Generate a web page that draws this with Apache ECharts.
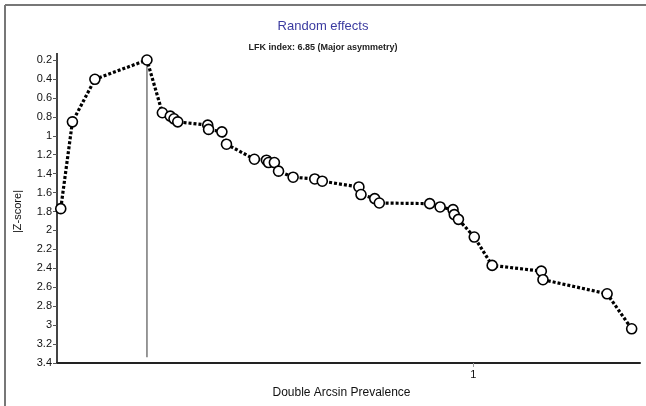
<!DOCTYPE html>
<html>
<head>
<meta charset="utf-8">
<script src="https://cdn.jsdelivr.net/npm/echarts@6/dist/echarts.min.js"></script>
<style>
html,body{margin:0;padding:0;background:#fff;}
#main{width:646px;height:406px;}
</style>
</head>
<body>
<div id="main"></div>
<script>
// Double arcsine prevalence (x) and |Z-score| (y) for each study, ordered by x
const prevalence = [0.009, 0.037, 0.091, 0.216, 0.253, 0.272, 0.281, 0.290,
  0.362, 0.364, 0.396, 0.407, 0.474, 0.503, 0.508, 0.522, 0.532,
  0.567, 0.619, 0.637, 0.725, 0.730, 0.763, 0.774,
  0.895, 0.920, 0.951, 0.954, 0.964, 1.002,
  1.045, 1.163, 1.167, 1.321, 1.380];
const zScore = [1.77, 0.853, 0.404, 0.20, 0.757, 0.793, 0.821, 0.853,
  0.888, 0.933, 0.959, 1.089, 1.248, 1.258, 1.283, 1.283, 1.374,
  1.438, 1.456, 1.48, 1.541, 1.621, 1.664, 1.71,
  1.717, 1.752, 1.78, 1.833, 1.883, 2.07,
  2.369, 2.43, 2.52, 2.669, 3.039];
// pooled estimate reference line (x position, from z top to z bottom)
const pooledX = 0.216;
const pooledLineZ = [0.2, 3.34];
const xTickLabels = [1];
const titleText = 'Random effects';
const subtitleText = 'LFK index: 6.85 (Major asymmetry)';

const points = prevalence.map((x, i) => [x, zScore[i]]);
const refLine = pooledLineZ.map(z => [pooledX, z]);

const FONT = 'Liberation Sans, Arial, sans-serif';
const chart = echarts.init(document.getElementById('main'));
chart.setOption({
  animation: false,
  backgroundColor: '#fff',
  title: [
    { text: titleText, left: 'center', top: 15,
      textStyle: { fontFamily: FONT, fontSize: 13, fontWeight: 'normal', color: '#3b3ba0' } },
    { text: subtitleText, left: 'center', top: 38,
      textStyle: { fontFamily: FONT, fontSize: 9, fontWeight: 'bold', color: '#222' } }
  ],
  grid: { left: 57, right: 6, top: 60, bottom: 43 },
  xAxis: {
    type: 'value', min: 0, max: 1.4,
    name: 'Double Arcsin Prevalence', nameLocation: 'middle', nameGap: 24,
    nameTextStyle: { fontFamily: FONT, fontSize: 12, color: '#111', padding: [0, 14, 0, 0] },
    axisLine: { lineStyle: { color: '#222', width: 2 } },
    axisTick: { show: true, length: 4, customValues: xTickLabels, lineStyle: { color: '#999' }, inside: false },
    axisLabel: { customValues: xTickLabels, fontFamily: FONT, fontSize: 11, color: '#111', margin: 6 },
    splitLine: { show: false }
  },
  yAxis: {
    type: 'value', min: 0.2, max: 3.4, interval: 0.2, inverse: true,
    name: '|Z-score|', nameLocation: 'middle', nameGap: 34, nameRotate: 90,
    nameTextStyle: { fontFamily: FONT, fontSize: 11, color: '#111' },
    axisLine: { show: true, lineStyle: { color: '#444', width: 2 } },
    axisTick: { show: true, length: 4, lineStyle: { color: '#555' } },
    axisLabel: { fontFamily: FONT, fontSize: 11, color: '#111', margin: 5,
      formatter: v => String(Math.round(v * 10) / 10) },
    splitLine: { show: false }
  },
  series: [
    { type: 'line', data: refLine, symbol: 'none', silent: true, z: 1,
      lineStyle: { color: '#777', width: 1.5 } },
    { type: 'line', data: points, symbol: 'circle', symbolSize: 10, z: 3,
      itemStyle: { color: '#fff', borderColor: '#000', borderWidth: 1.6 },
      lineStyle: { color: '#000', width: 3.2, type: [3, 2] } }
  ],
  graphic: [
    { type: 'line', shape: { x1: 5, y1: 5, x2: 646, y2: 5 }, style: { stroke: '#777', lineWidth: 2 } },
    { type: 'line', shape: { x1: 5, y1: 5, x2: 5, y2: 406 }, style: { stroke: '#777', lineWidth: 2 } },
    { type: 'line', shape: { x1: 57, y1: 53, x2: 57, y2: 60 }, style: { stroke: '#444', lineWidth: 2 } }
  ]
});
</script>
</body>
</html>
